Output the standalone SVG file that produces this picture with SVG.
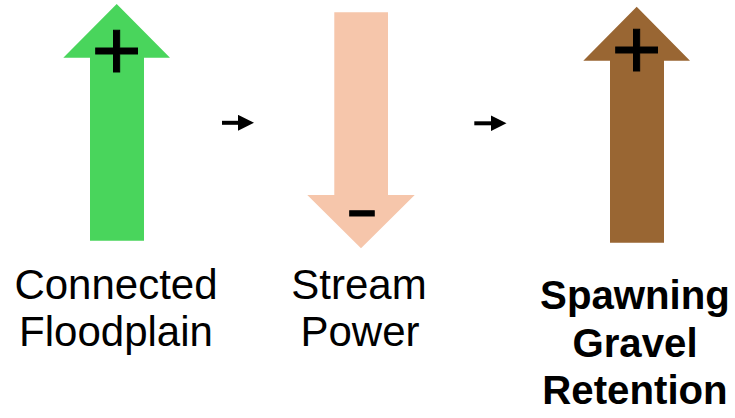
<svg xmlns="http://www.w3.org/2000/svg" width="735" height="418" viewBox="0 0 735 418">
  <style>
    .lbl { font-family: "Liberation Sans", Arial, sans-serif; font-size: 42px; fill: #000; text-anchor: middle; }
    .bold { font-weight: bold; font-size: 40.2px; }
    .sign { font-family: "Liberation Sans", Arial, sans-serif; fill: #000; stroke: #000; stroke-width: 1; text-anchor: middle; }
    .conn { stroke: #000; stroke-width: 4; fill: none; }
  </style>
  <defs>
    <marker id="head" markerUnits="userSpaceOnUse" viewBox="0 0 16 16" markerWidth="16" markerHeight="16" refX="1" refY="8" orient="auto">
      <polygon points="0,0 16,8 0,16" fill="#000"/>
    </marker>
  </defs>
  <rect width="735" height="418" fill="#fff"/>

  <g id="node-floodplain">
    <polygon points="116.7,4 170,57.7 144,57.7 144,240.7 90,240.7 90,57.7 63.3,57.7" fill="#49D55C"/>
    <text class="sign" x="116.5" y="80" font-size="86">+</text>
    <text class="lbl" x="116" y="299">Connected</text>
    <text class="lbl" x="116" y="346">Floodplain</text>
  </g>

  <g id="node-streampower">
    <polygon points="334.3,12.3 388,12.3 388,195 414.7,195 361,248.3 307.3,195 334.3,195" fill="#F6C6AB"/>
    <text class="sign" transform="translate(362,231) scale(1.5,1)" x="0" y="0" font-size="66" stroke-width="0">-</text>
    <text class="lbl" x="359" y="299">Stream</text>
    <text class="lbl" x="360" y="346">Power</text>
  </g>

  <g id="node-gravel">
    <polygon points="636.7,6.7 690,60.7 664,60.7 664,242.7 610,242.7 610,60.7 583.3,60.7" fill="#996633"/>
    <text class="sign" x="636.5" y="79" font-size="86">+</text>
    <text class="lbl bold" x="635" y="309">Spawning</text>
    <text class="lbl bold" x="635" y="357">Gravel</text>
    <text class="lbl bold" x="635" y="404">Retention</text>
  </g>

  <g id="connectors">
    <line class="conn" x1="222" y1="122.8" x2="239" y2="122.8" marker-end="url(#head)"/>
    <line class="conn" x1="474.3" y1="123.3" x2="491.5" y2="123.3" marker-end="url(#head)"/>
  </g>
</svg>
